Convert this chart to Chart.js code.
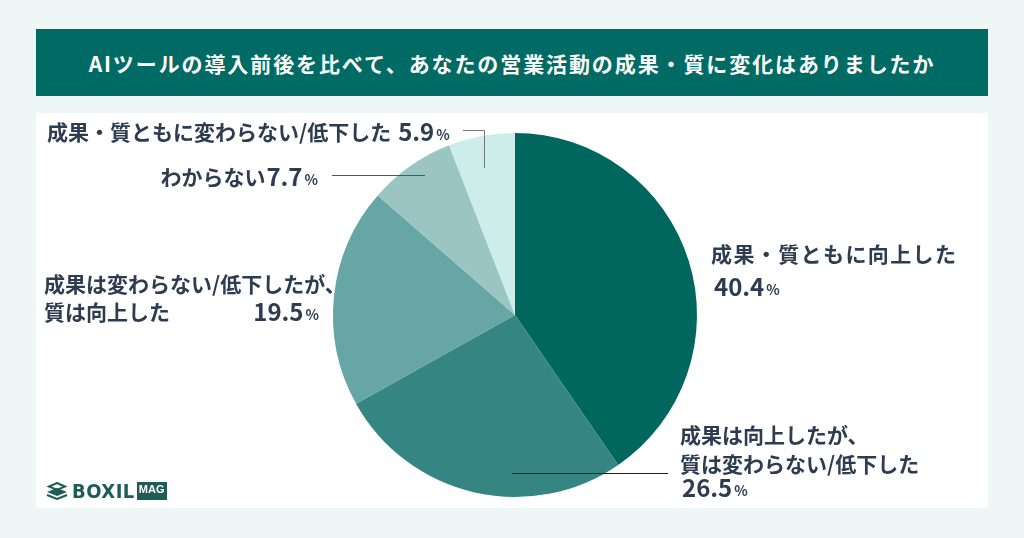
<!DOCTYPE html>
<html lang="ja">
<head>
<meta charset="utf-8">
<script src="https://cdn.jsdelivr.net/npm/chart.js@4.4.1/dist/chart.umd.min.js"></script>
<style>
  html, body { margin: 0; padding: 0; }
  body { width: 1024px; height: 538px; background: #eff7f6; position: relative; overflow: hidden;
         font-family: "Noto Sans CJK JP", "Noto Sans", sans-serif; }
  #titlebar { position: absolute; left: 36px; top: 29px; width: 952px; height: 67px; background: #006a65;
              color: #fff; font-weight: 700; font-size: 21px; letter-spacing: 1.9px;
              display: flex; align-items: center; justify-content: center; }
  #panel { position: absolute; left: 36px; top: 113px; width: 952px; height: 395px; background: #fff; }
  #chartbox { position: absolute; left: 0; top: 0; width: 1024px; height: 538px; }
  #logo { position: absolute; left: 46px; top: 479px; display: flex; align-items: center; color: #1e5c57; }
  #logo .word { font-family: "Liberation Sans Narrow", "DejaVu Sans Condensed", sans-serif; font-weight: 700; font-size: 20px; letter-spacing: 0.5px; margin-left: 4px; }
  #logo .mag { background: #1e5c57; color: #fff; font-family: "Liberation Sans Narrow", sans-serif; font-weight: 700;
               font-size: 11px; line-height: 10px; padding: 2px 2px 6px 2px; margin-left: 2px; }
</style>
</head>
<body>
<div id="titlebar">AIツールの導入前後を比べて、あなたの営業活動の成果・質に変化はありましたか</div>
<div id="panel"></div>
<div id="chartbox"><canvas id="pie"></canvas></div>
<div id="logo">
  <svg width="22" height="18" viewBox="0 0 22 18">
    <path d="M11 6 L21 10 L11 14 L1 10 Z" fill="#1e5c57"/>
    <path d="M11 1 L19 4.5 L11 8 L3 4.5 Z" fill="none" stroke="#1e5c57" stroke-width="2"/>
    <path d="M1 13 L11 17 L21 13" fill="none" stroke="#1e5c57" stroke-width="2"/>
  </svg>
  <span class="word">BOXIL</span><span class="mag">MAG</span>
</div>
<script>
// 回答カテゴリと割合(%)
const categorias = [
    "成果・質ともに向上した",
    "成果は向上したが、質は変わらない/低下した",
    "成果は変わらない/低下したが、質は向上した",
    "わからない",
    "成果・質ともに変わらない/低下した"
];
const valores = [40.4, 26.5, 19.5, 7.7, 5.9];
const cores = ['#00675f', '#358582', '#66a6a4', '#9ac5c3', '#cdedeb'];

const COR_TEXTO = '#2d3c51';
const FONTE = '"Noto Sans CJK JP", "Noto Sans", sans-serif';

// número com "%" menor
function escreverValor(ctx, txt, x, y, alinhar) {
    ctx.font = '700 24px ' + FONTE;
    const wNum = ctx.measureText(txt).width;
    ctx.font = '700 14px ' + FONTE;
    const wPct = ctx.measureText('%').width + 2;
    let x0 = alinhar === 'right' ? x - wNum - wPct : x;
    ctx.font = '700 24px ' + FONTE;
    ctx.fillText(txt, x0, y);
    ctx.font = '700 14px ' + FONTE;
    ctx.fillText('%', x0 + wNum + 2, y + 3);
    return x0;
}

const rotulosPlugin = {
    id: 'rotulos',
    afterDraw(chart) {
        const ctx = chart.ctx;
        const arcs = chart.getDatasetMeta(0).data;
        const cx = arcs[0].x, cy = arcs[0].y;
        ctx.save();
        ctx.fillStyle = COR_TEXTO;
        ctx.textBaseline = 'middle';
        ctx.textAlign = 'left';
        const fmt = v => v.toFixed(1);
        const lbl = '700 21px ' + FONTE;

        // 0: 40.4
        ctx.font = lbl;
        ctx.letterSpacing = '1.4px';
        ctx.fillText('成果・質ともに向上した', cx + 196, cy - 61);
        ctx.letterSpacing = '0px';
        escreverValor(ctx, fmt(valores[0]), cx + 199, cy - 28);

        // 1: 26.5
        ctx.font = lbl;
        ctx.fillText('成果は向上したが、', cx + 165, cy + 120);
        ctx.fillText('質は変わらない/低下した', cx + 165, cy + 149);
        escreverValor(ctx, fmt(valores[1]), cx + 167, cy + 173);
        ctx.strokeStyle = '#222';
        ctx.lineWidth = 1;
        ctx.beginPath();
        ctx.moveTo(cx - 3, cy + 158.5);
        ctx.lineTo(cx + 153, cy + 158.5);
        ctx.stroke();

        // 2: 19.5
        ctx.font = lbl;
        ctx.fillText('成果は変わらない/低下したが、', 44, cy - 31);
        ctx.fillText('質は向上した', 44, cy - 3);
        escreverValor(ctx, fmt(valores[2]), 319, cy - 3, 'right');

        // 3: 7.7
        const x3 = escreverValor(ctx, fmt(valores[3]), 318, cy - 138, 'right');
        ctx.font = lbl;
        ctx.textAlign = 'right';
        ctx.fillText('わからない', x3 - 1, cy - 138);
        ctx.textAlign = 'left';
        ctx.strokeStyle = '#555';
        ctx.beginPath();
        ctx.moveTo(332, cy - 139.5);
        ctx.lineTo(cx - 90, cy - 139.5);
        ctx.stroke();

        // 4: 5.9
        ctx.font = lbl;
        ctx.fillText('成果・質ともに変わらない/低下した', 47, cy - 183);
        const w4 = ctx.measureText('成果・質ともに変わらない/低下した').width;
        escreverValor(ctx, fmt(valores[4]), 47 + w4 + 7, cy - 183);
        ctx.strokeStyle = '#777';
        ctx.beginPath();
        ctx.moveTo(cx - 52, cy - 184.5);
        ctx.lineTo(cx - 30.5, cy - 184.5);
        ctx.lineTo(cx - 30.5, cy - 147);
        ctx.stroke();
        ctx.restore();
    }
};

new Chart(document.getElementById('pie'), {
    type: 'pie',
    data: {
        labels: categorias,
        datasets: [{
            data: valores,
            backgroundColor: cores,
            borderWidth: 0
        }]
    },
    options: {
        responsive: true,
        maintainAspectRatio: false,
        animation: false,
        layout: { padding: { left: 333, right: 327, top: 133, bottom: 41 } },
        plugins: {
            legend: { display: false },
            tooltip: { enabled: false }
        }
    },
    plugins: [rotulosPlugin]
});
</script>
</body>
</html>
